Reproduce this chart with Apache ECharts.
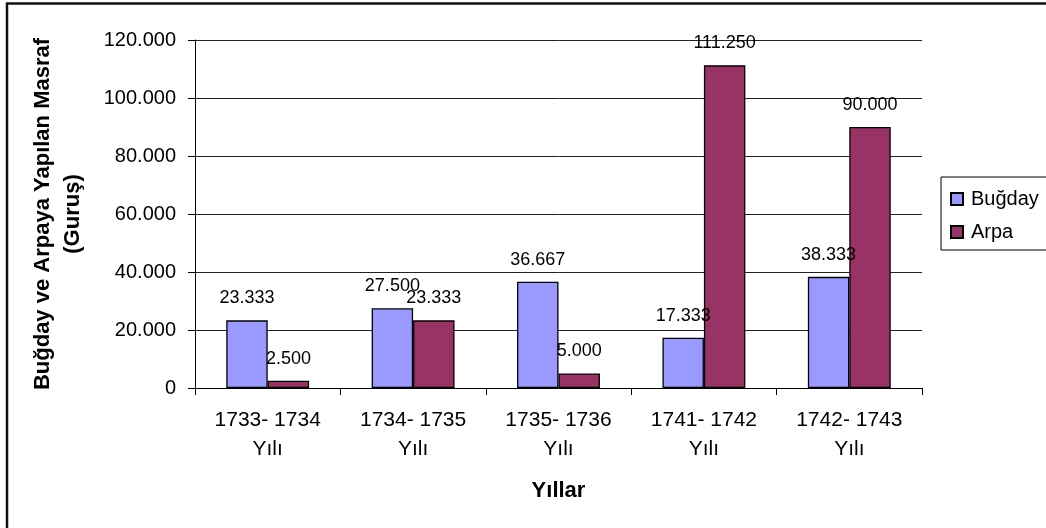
<!DOCTYPE html>
<html>
<head>
<meta charset="utf-8">
<script src="https://cdn.jsdelivr.net/npm/echarts@6/dist/echarts.min.js"></script>
<style>
html,body{margin:0;padding:0;background:#fff;}
#c{width:1046px;height:528px;}
</style>
</head>
<body>
<div id="c"></div>
<script>
const categories = ['1733- 1734\nYılı', '1734- 1735\nYılı', '1735- 1736\nYılı', '1741- 1742\nYılı', '1742- 1743\nYılı'];
const bugday = [23333, 27500, 36667, 17333, 38333];
const arpa = [2500, 23333, 5000, 111250, 90000];
const seriesNames = ['Buğday', 'Arpa'];
const yTicks = { min: 0, max: 120000, interval: 20000 };

function trFmt(v) {
  return String(Math.round(v)).replace(/\B(?=(\d{3})+(?!\d))/g, '.');
}
const FONT = '"Liberation Sans", Arial, sans-serif';

const chart = echarts.init(document.getElementById('c'), null, { renderer: 'canvas' });
const labelCfg = {
  show: true,
  position: 'top',
  distance: 13,
  color: '#000',
  fontSize: 18,
  fontFamily: FONT,
  formatter: p => trFmt(p.value)
};
chart.setOption({
  animation: false,
  backgroundColor: '#fff',
  textStyle: { fontFamily: FONT },
  graphic: [{
    type: 'rect',
    shape: { x: 7, y: 3.5, width: 1100, height: 600 },
    style: { fill: 'none', stroke: '#111', lineWidth: 2.5 },
    silent: true
  }],
  grid: { left: 195, right: 124, top: 40, bottom: 140, containLabel: false },
  legend: {
    orient: 'vertical',
    left: 941,
    top: 177,
    data: seriesNames,
    icon: 'rect',
    itemWidth: 12,
    itemHeight: 12,
    itemGap: 11,
    padding: [11, 30, 7, 9],
    borderColor: '#000',
    borderWidth: 1,
    borderRadius: 0,
    textStyle: { fontSize: 20, fontFamily: FONT, color: '#000', lineHeight: 22, padding: [0, 0, 0, 3] }
  },
  xAxis: {
    type: 'category',
    data: categories,
    name: 'Yıllar',
    nameLocation: 'middle',
    nameGap: 92,
    nameTextStyle: { fontSize: 22, fontWeight: 'bold', color: '#000', fontFamily: FONT },
    axisLine: { lineStyle: { color: '#000', width: 1 } },
    axisTick: { show: true, length: 7, lineStyle: { color: '#000' } },
    axisLabel: { color: '#000', fontSize: 21, lineHeight: 29, margin: 18, fontFamily: FONT }
  },
  yAxis: {
    type: 'value',
    min: yTicks.min,
    max: yTicks.max,
    interval: yTicks.interval,
    name: 'Buğday ve Arpaya Yapılan Masraf\n(Guruş)',
    nameLocation: 'middle',
    nameRotate: 90,
    nameGap: 107,
    nameTextStyle: { fontSize: 22, fontWeight: 'bold', color: '#000', lineHeight: 30, fontFamily: FONT },
    axisLine: { show: true, lineStyle: { color: '#000', width: 1 } },
    axisTick: { show: true, length: 7, lineStyle: { color: '#000' } },
    axisLabel: { color: '#000', fontSize: 20, margin: 19, fontFamily: FONT, formatter: v => trFmt(v) },
    splitLine: { show: true, lineStyle: { color: '#222', width: 1 } }
  },
  series: [
    {
      name: seriesNames[0], type: 'bar', data: bugday,
      barGap: '0%', barCategoryGap: '43%',
      itemStyle: { color: '#9999FF', borderColor: '#000', borderWidth: 1.3 },
      label: labelCfg
    },
    {
      name: seriesNames[1], type: 'bar', data: arpa,
      barGap: '0%', barCategoryGap: '43%',
      itemStyle: { color: '#993366', borderColor: '#000', borderWidth: 1.3 },
      label: labelCfg
    }
  ]
});
</script>
</body>
</html>
